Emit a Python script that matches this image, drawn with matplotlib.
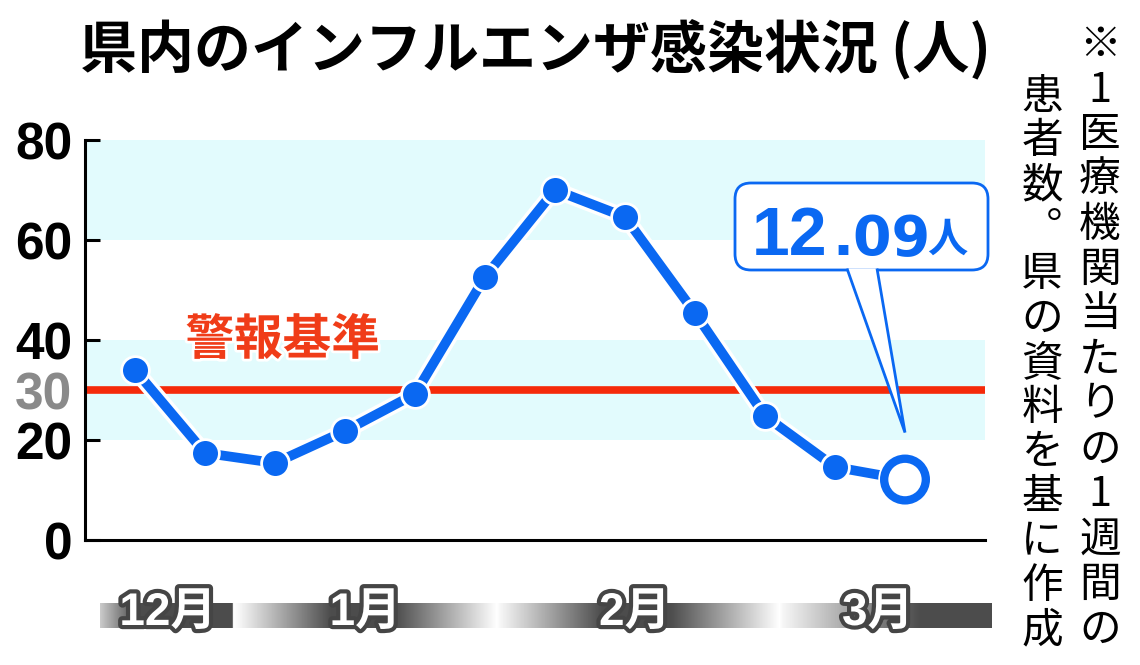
import numpy as np
import matplotlib
matplotlib.use('Agg')
import matplotlib.pyplot as plt
import matplotlib.patheffects as pe
from matplotlib.patches import FancyBboxPatch, Polygon
from matplotlib.transforms import Affine2D

# patients per medical institution per week, Dec -> Mar
weeks = np.arange(12)
patients = [34.0, 17.4, 15.4, 21.8, 29.2, 52.6, 70.0, 64.6, 45.4, 24.8, 14.6, 12.09]
alert_level = 30
yticks = [0, 20, 30, 40, 60, 80]
months = ['12月', '1月', '2月', '3月']
month_pos = [0.47, 3.29, 7.14, 10.61]     # label position in week units
month_edges = [1.44, 5.17, 9.21]           # where one month ends
title = '県内のインフルエンザ感染状況 (人)'
note_1 = '※1医療機関当たりの1週間の'
note_2 = '患者数︒県の資料を基に作成'   # vertical-form full stop

W, H = 1140, 665
BLUE = '#0a68f2'
RED = '#f52a0a'
BAND = '#e2fbfd'

num = 'Liberation Sans'
jp = 'Noto Sans CJK JP'

fig = plt.figure(figsize=(W / 100, H / 100), dpi=100)
ax = fig.add_axes([85 / W, 1 - 540 / H, 900 / W, 400 / H])
# pixel coords, origin top-left
px = Affine2D().scale(1 / W, -1 / H).translate(0, 1) + fig.transFigure

xlim = (-50 / 70, 850 / 70)
ylim = (0, 80)
ax.set_xlim(*xlim)
ax.set_ylim(*ylim)

# background bands + alert line
ax.axhspan(20, 40, color=BAND, lw=0, zorder=0)
ax.axhspan(60, 80, color=BAND, lw=0, zorder=0)
ax.axhline(alert_level, color=RED, lw=5.5, solid_capstyle='butt', zorder=2)
ax.text(2.11, 40, '警報基準', ha='center', va='center', fontsize=35,
        fontweight='bold', family=[jp], color='#f03c18', zorder=3,
        path_effects=[pe.Stroke(linewidth=4, foreground='white'), pe.Normal()])

# the series
ax.plot(weeks, patients, color='white', lw=12, solid_capstyle='round', zorder=3)
ax.plot(weeks, patients, color=BLUE, lw=7, zorder=4)
ax.plot(weeks[:-1], patients[:-1], 'o', ms=20, mfc=BLUE, mec='white', mew=2, zorder=5)
ax.plot(weeks[-1:], patients[-1:], 'o', ms=30, mfc='white', mec=BLUE, mew=6, zorder=6,
        path_effects=[pe.Stroke(linewidth=8.5, foreground='white'), pe.Normal()])

# axes styling
for s in ['top', 'right']:
    ax.spines[s].set_visible(False)
for s in ['left', 'bottom']:
    ax.spines[s].set_linewidth(2.2)
    ax.spines[s].set_zorder(7)
ax.set_xticks([])
ax.set_yticks(yticks)
ax.set_yticklabels([str(v) for v in yticks], fontsize=37, fontweight='bold', family=[num])
ax.tick_params(axis='y', direction='in', length=11, width=2.2, pad=9)
i30 = yticks.index(alert_level)
ax.get_yticklabels()[i30].set_color('#8a8a8a')
ax.yaxis.get_major_ticks()[i30].tick1line.set_visible(False)

# month bar under the chart
xb0, xb1 = (100 - 135) / 70, (992 - 135) / 70
e1, e2, e3 = month_edges
kx = [xb0, xb0 + 0.5, e1 - 0.05, e1 - 0.04, e1 + 0.05, e1 + 1.35, e2 - 1.45, e2,
      e2 + 0.05, e2 + 1.5, e3 - 1.55, e3, e3 + 0.05, e3 + 2.0, xb1]
ka = [0.3, 1, 1, 0, 0.05, 1, 1, 0, 0.05, 1, 1, 0, 0.05, 1, 1]
xs = np.linspace(xb0, xb1, 900)
img = np.zeros((1, xs.size, 4))
img[..., :3] = 0.30
img[0, :, 3] = np.interp(xs, kx, ka)
ax.imshow(img, extent=(xb0, xb1, -17.6, -12.6), aspect='auto', clip_on=False,
          interpolation='bilinear', zorder=1)
for m, p in zip(months, month_pos):
    ax.text(p, -14.6, m, ha='center', va='center', fontsize=33, fontweight='bold',
            family=[num, jp], color='white', clip_on=False, zorder=6,
            path_effects=[pe.Stroke(linewidth=6, foreground='#454545'), pe.Normal()])

ax.set_xlim(*xlim)
ax.set_ylim(*ylim)

# callout for the latest value
box = FancyBboxPatch((735, 183), 253, 87, boxstyle='round,pad=0,rounding_size=16',
                     transform=px, fc='white', ec=BLUE, lw=2, zorder=2)
fig.add_artist(box)
tx, ty = ax.transData.transform((weeks[-1], patients[-1]))
tip = (tx, H - ty - 47)
tail = Polygon([(847, 268.5), tip, (877, 268.5)], closed=False, transform=px,
               fc='white', ec=BLUE, lw=2, zorder=3)
fig.add_artist(tail)
whole, frac = f'{patients[-1]:.2f}'.split('.')
fig.text(752 / W, 1 - 255 / H, whole, ha='left', va='baseline', fontsize=49,
         fontweight='bold', family=[num], color=BLUE, zorder=4)
fig.text(832 / W, 1 - 255 / H, '.' + frac, ha='left', va='baseline', fontsize=40,
         fontweight='bold', family=['DejaVu Sans'], color=BLUE, zorder=4)
fig.text(927 / W, 1 - 252 / H, '人', ha='left', va='baseline', fontsize=29,
         fontweight='bold', family=[jp], color=BLUE, zorder=4)

# title
fig.text(80 / W, 1 - 50 / H, title, ha='left', va='center', fontsize=41,
         fontweight='bold', family=[jp, 'DejaVu Sans'])

# vertical note on the right
for i, ch in enumerate(note_1):
    fig.text(1100 / W, 1 - (45 + 45 * i) / H, ch, ha='center', va='center',
             fontsize=30, family=[jp, 'DejaVu Sans'])
for i, ch in enumerate(note_2):
    fig.text(1042 / W, 1 - (97 + 44.5 * i) / H, ch, ha='center', va='center',
             fontsize=30, family=[jp, 'DejaVu Sans'])

fig.savefig('out.png', dpi=100)
